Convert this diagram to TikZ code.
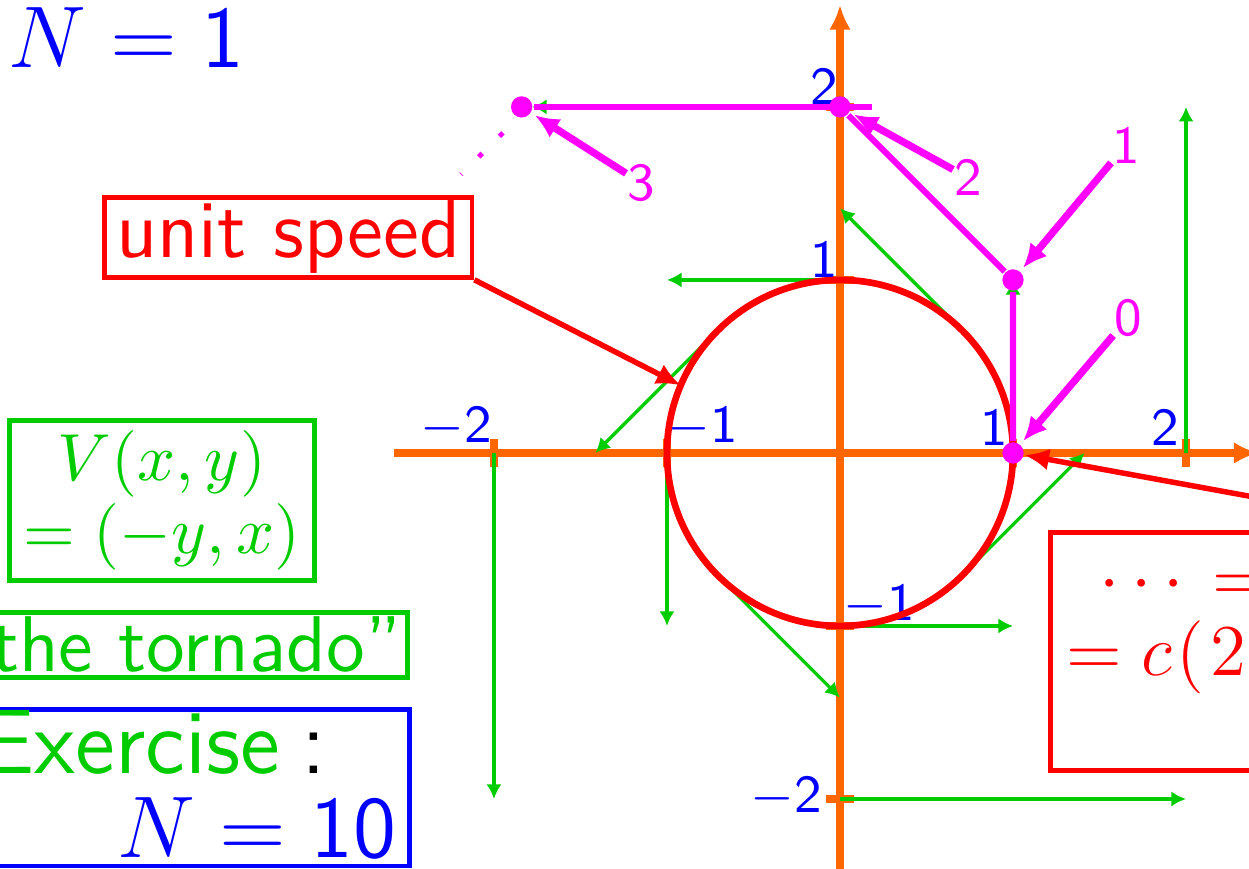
\documentclass[tikz,border=0pt]{standalone}
\usepackage{amsmath}
\usepackage{tikz}
\usetikzlibrary{
  arrows.meta,
  positioning,
  calc
}
\definecolor{axiscolor}{RGB}{255, 102, 0}
\definecolor{fieldcolor}{RGB}{0, 204, 0}
\definecolor{curvecolor}{RGB}{255, 0, 0}
\definecolor{eulercolor}{RGB}{255, 0, 255}
\definecolor{numbercolor}{RGB}{0, 0, 255}
\tikzset{
axisline/.style={
  draw=axiscolor,
  line width=1.3pt,
  -{Latex[length=4.1pt,width=3.6pt]}
},
tickmark/.style={
  draw=axiscolor,
  line width=1.3pt
},
ticklabel/.style={
  font=\sffamily\fontsize{8.8}{10}\selectfont,
  text=numbercolor,
  inner sep=0pt
},
fieldarrow/.style={
  -{Latex[length=2.4pt,width=2.5pt]},
  line width=0.55pt,
  draw=fieldcolor
},
curveline/.style={
  draw=curvecolor,
  line width=1.1pt
},
eulerdot/.style={
  circle,
  fill=eulercolor,
  inner sep=0pt,
  minimum size=3.5pt
},
eulerpath/.style={
  draw=eulercolor,
  line width=1pt
},
eulerlabel/.style={
  font=\sffamily\fontsize{8.8}{10}\selectfont,
  text=eulercolor,
  inner sep=0pt
},
eulerarrow/.style={
  -{Latex[length=4pt,width=3.6pt]},
  line width=1.2pt,
  draw=eulercolor,
  shorten >=0.6pt
},
traildots/.style={
  draw=eulercolor,
  line width=0.8pt,
  dash pattern=on 0.8pt off 4pt
},
notebox/.style={
  draw=curvecolor,
  line width=0.8pt,
  inner sep=0pt,
  text=curvecolor
},
notearrow/.style={
  -{Latex[length=4pt,width=3.6pt]},
  line width=0.9pt,
  draw=curvecolor
},
fieldbox/.style={
  draw=fieldcolor,
  line width=0.8pt,
  text=fieldcolor
},
exercisebox/.style={
  draw=numbercolor,
  line width=0.8pt
},
bigtext/.style={
  font=\sffamily\fontsize{13.5}{16}\selectfont
},
mathtext/.style={
  font=\fontsize{11.5}{12}\selectfont
}
}

\begin{document}
\begin{tikzpicture}
\useasboundingbox (-4.855,-2.399) rectangle (2.364,2.618);

% axes
\coordinate (xstart) at (-2.578,0);
\coordinate (xend) at (2.42,0);
\coordinate (ystart) at (0,-2.5);
\coordinate (yend) at (0,2.59);
\foreach \t in {-2,-1,1,2} {
  \draw[tickmark] (\t,-0.08) -- (\t,0.08);
  \draw[tickmark] (-0.08,\t) -- (0.08,\t);
}
\draw[axisline] (xstart) -- (xend);
\draw[axisline] (ystart) -- (yend);

\node[ticklabel] (xm2) at (-2.217,0.15) {$-$2};
\node[ticklabel] (xm1) at (-0.795,0.15) {$-$1};
\node[ticklabel] (xp1) at (0.89,0.15) {1};
\node[ticklabel] (xp2) at (1.879,0.15) {2};
\node[ticklabel] (yp2) at (-0.09,2.118) {2};
\node[ticklabel] (yp1) at (-0.092,1.118) {1};
\node[ticklabel] (ym1) at (0.228,-0.879) {$-$1};
\node[ticklabel] (ym2) at (-0.309,-1.986) {$-$2};

% tornado field
\foreach \px/\py in {1/0,0/1,-1/0,0/-1,2/0,-2/0,0/-2}
  \draw[fieldarrow] (\px,\py) -- ++({0-(\py)},{\px});
\foreach \a in {45,135,225,315}
  \draw[fieldarrow] (\a:1) -- ++({\a+90}:1);
\draw[fieldarrow] (0,2) -- (-1.78,2);

\draw[curveline] (0,0) circle (1);

% Euler steps
\node[eulerdot] (p0) at (1,0) {};
\node[eulerdot] (p1) at (1,1) {};
\node[eulerdot] (p2) at (0,2) {};
\node[eulerdot] (p3) at (-1.84,2) {};
\coordinate (p2stub) at (0.185,2);
\draw[eulerpath] (p0) -- (p1) -- (p2);
\draw[eulerpath] (p2stub) -- (p3);
\coordinate (trailA) at (-1.948,1.85);
\coordinate (trailB) at (-2.19,1.61);
\draw[traildots] (trailA) -- (trailB);

\node[eulerlabel] (l0) at (1.665,0.78) {0};
\node[eulerlabel] (l1) at (1.653,1.78) {1};
\node[eulerlabel] (l2) at (0.74,1.59) {2};
\node[eulerlabel] (l3) at (-1.15,1.561) {3};
\draw[eulerarrow] (l0) -- (p0);
\draw[eulerarrow] (l1) -- (p1);
\draw[eulerarrow] (l2) -- (p2);
\draw[eulerarrow] (l3) -- (p3);

% notes
\node[font=\sffamily\fontsize{14.4}{16}\selectfont, text=numbercolor, anchor=base west, inner sep=0pt] (Ntitle) at (-4.815,2.225) {$N = \mathsf{1}$};

\node[notebox, bigtext, minimum width=2.122cm, minimum height=0.463cm] (speed) at (-3.188,1.246) {unit speed};
\coordinate (c157) at (157:1);
\draw[notearrow] (speed.south east) -- (c157);

\node[fieldbox, font=\fontsize{10.9}{12}\selectfont, align=center, minimum width=1.762cm, minimum height=0.925cm, inner sep=0pt] (field) at (-3.919,-0.2745) {$V(x,y)$\\$= (-y,x)$};

\node[fieldbox, font=\sffamily\fontsize{13}{15}\selectfont, anchor=east, minimum height=0.376cm, inner xsep=0.9pt, inner ysep=0pt] (tornado) at (-2.488,-1.109) {``the tornado''};

\node[exercisebox, minimum width=2.9cm, minimum height=0.904cm] (exercise) at (-3.938,-1.935) {};
\node[font=\sffamily\fontsize{15}{17}\selectfont, anchor=base east, inner sep=0pt] (extitle) at (-2.96,-1.85) {\textcolor{fieldcolor}{Exercise}\hspace{3.6pt}:};
\node[font=\sffamily\fontsize{15.5}{17}\selectfont, text=numbercolor, anchor=base east, inner sep=0pt] (exN) at (-2.555,-2.341) {$N = \mathsf{10}$};

\node[notebox, minimum width=2.4cm, minimum height=1.375cm] (sumbox) at (2.417,-1.1475) {};
\node[mathtext, text=curvecolor, anchor=base west, inner sep=0pt] (sumtop) at (1.491,-0.858) {$\cdots\mkern2mu =$};
\node[mathtext, text=curvecolor, anchor=base west, inner sep=0pt] (sumbottom) at (1.300,-1.285) {$= c\mkern1mu(\mkern1.5mu 2$};
\coordinate (offnote) at (3.24,-0.41);
\draw[notearrow] (offnote) -- (p0);
\end{tikzpicture}
\end{document}
